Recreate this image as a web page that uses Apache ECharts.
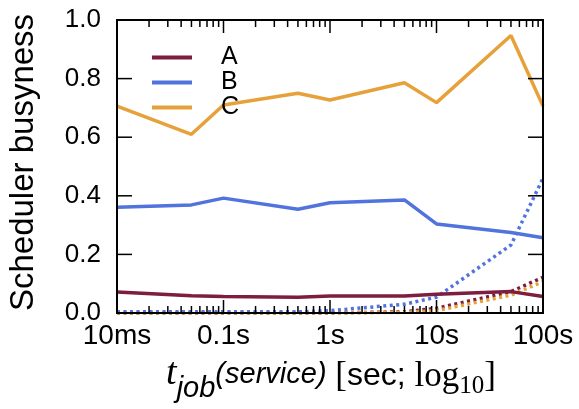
<!DOCTYPE html>
<html>
<head>
<meta charset="utf-8">
<script src="https://cdn.jsdelivr.net/npm/echarts@6/dist/echarts.min.js"></script>
<style>html,body{margin:0;padding:0;background:#fff}#c{width:579px;height:409px}</style>
</head>
<body>
<div id="c"></div>
<script>
// job service time in seconds
const times = [0.01, 0.05, 0.1, 0.5, 1, 5, 10, 50, 100];
// solid series
const seriesA = [0.072, 0.059, 0.056, 0.054, 0.058, 0.058, 0.064, 0.073, 0.056];
const seriesB = [0.361, 0.369, 0.392, 0.354, 0.376, 0.386, 0.304, 0.275, 0.257];
const seriesC = [0.706, 0.610, 0.710, 0.750, 0.727, 0.786, 0.718, 0.947, 0.706];
// dotted series
const dottedA = [0, 0, 0, 0, 0, 0.004, 0.016, 0.073, 0.122];
const dottedB = [0.004, 0.004, 0.004, 0.004, 0.008, 0.030, 0.054, 0.232, 0.460];
const dottedC = [0, 0, 0, 0, 0, 0.002, 0.008, 0.061, 0.107];
// ticks and tick labels
const xTickLabels = ['10ms', '0.1s', '1s', '10s', '100s'];
const xMajorTicks = [0.01, 0.1, 1, 10, 100];
const xMinorTicks = [0.02,0.03,0.04,0.05,0.06,0.07,0.08,0.09,0.2,0.3,0.4,0.5,0.6,0.7,0.8,0.9,2,3,4,5,6,7,8,9,20,30,40,50,60,70,80,90];
const yTicks = [0, 0.2, 0.4, 0.6, 0.8, 1.0];
const legendNames = ['A', 'B', 'C'];
const yTitle = 'Scheduler busyness';

const colors = {A: '#7d1d3f', B: '#5173dd', C: '#e7a13b'};
const SANS = 'Liberation Sans, Arial, sans-serif';
const SERIF = 'Liberation Serif, DejaVu Serif, serif';
const X_MIN = 0.01, X_MAX = 100, Y_MIN = 0, Y_MAX = 1;

const pair = (arr) => times.map((t, i) => [t, arr[i]]);

function solid(name, arr) {
  return {name, type: 'line', data: pair(arr), symbol: 'none', z: 3,
    lineStyle: {color: colors[name], width: 3.5}, itemStyle: {color: colors[name]}};
}
function dotted(key, arr) {
  return {name: key + '-dot', type: 'line', data: pair(arr), symbol: 'none', z: 2,
    lineStyle: {color: colors[key], width: 3.5, type: [3, 3.5]}, itemStyle: {color: colors[key]}};
}

const richX = {
  t: {fontFamily: SERIF, fontStyle: 'italic', fontSize: 38, fill: '#000', verticalAlign: 'bottom', padding: [0, 0, 10, 0], lineHeight: 46},
  job: {fontFamily: SANS, fontStyle: 'italic', fontSize: 29, fill: '#000', verticalAlign: 'bottom', padding: [0, 0, 0, 0], lineHeight: 46},
  svc: {fontFamily: SANS, fontStyle: 'italic', fontSize: 29, fill: '#000', verticalAlign: 'bottom', padding: [0, 0, 14, 0], lineHeight: 46},
  br: {fontFamily: SERIF, fontSize: 35, fill: '#000', verticalAlign: 'bottom', padding: [0, 0, 9, 0], lineHeight: 46},
  sec: {fontFamily: SANS, fontSize: 32, fill: '#000', verticalAlign: 'bottom', padding: [0, 0, 11, 0], lineHeight: 46},
  log: {fontFamily: SERIF, fontSize: 35, fill: '#000', verticalAlign: 'bottom', padding: [0, 0, 9, 0], lineHeight: 46},
  sub: {fontFamily: SERIF, fontSize: 25, fill: '#000', verticalAlign: 'bottom', padding: [0, 0, 4, 0], lineHeight: 46}
};

const chart = echarts.init(document.getElementById('c'));
chart.setOption({
  animation: false,
  grid: {left: 117, right: 36, top: 20, bottom: 96, show: true, borderColor: '#000', borderWidth: 2, backgroundColor: 'transparent'},
  legend: {
    data: legendNames, orient: 'vertical', left: 147, top: 40,
    icon: 'rect', itemWidth: 40, itemHeight: 4, itemGap: 0,
    textStyle: {fontSize: 25, fontFamily: SANS, color: '#000', padding: [0, 0, 0, 24], lineHeight: 25}
  },
  xAxis: {type: 'log', logBase: 10, min: X_MIN, max: X_MAX, position: 'bottom',
    axisLine: {show: false, onZero: false}, splitLine: {show: false}, axisTick: {show: false},
    axisLabel: {fontSize: 28, fontFamily: SANS, color: '#000', margin: 9,
      formatter: v => xTickLabels[Math.round(Math.log10(v)) + 2]}},
  yAxis: {type: 'value', min: Y_MIN, max: Y_MAX, interval: 0.2, position: 'left',
    axisLine: {show: false, onZero: false}, splitLine: {show: false}, axisTick: {show: false},
    axisLabel: {fontSize: 26, fontFamily: SANS, color: '#000', margin: 16, formatter: v => v.toFixed(1)}},
  series: [
    dotted('A', dottedA), dotted('C', dottedC), dotted('B', dottedB),
    solid('A', seriesA), solid('B', seriesB), solid('C', seriesC)
  ]
});

// frame, ticks and titles as graphic elements, positioned through the chart's own scales
const toPx = (x, y) => chart.convertToPixel({xAxisIndex: 0, yAxisIndex: 0}, [x, y]);
const lb = toPx(X_MIN, Y_MIN), rt = toPx(X_MAX, Y_MAX);
const L = lb[0], B = lb[1], R = rt[0], T = rt[1];
const blk = {fill: '#000'};
const rect = (x, y, w, h) => ({type: 'rect', silent: true, z: 10, shape: {x, y, width: w, height: h}, style: blk});
const marks = [
  rect(L - 1, T - 1, 2, B - T + 2), rect(R - 1, T - 1, 2, B - T + 2),
  rect(L - 1, T - 1, R - L + 2, 2), rect(L - 1, B - 1, R - L + 2, 2)
];
xMajorTicks.forEach(v => { const px = toPx(v, Y_MIN)[0]; marks.push(rect(px - 0.75, B - 13, 1.5, 13), rect(px - 0.75, T, 1.5, 13)); });
xMinorTicks.forEach(v => { const px = toPx(v, Y_MIN)[0]; marks.push(rect(px - 0.75, B - 7, 1.5, 7), rect(px - 0.75, T, 1.5, 7)); });
yTicks.forEach(v => { const py = toPx(X_MIN, v)[1]; marks.push(rect(L, py - 0.75, 15, 1.5), rect(R - 15, py - 0.75, 15, 1.5)); });
marks.push(
  {type: 'text', x: (L + R) / 2 + 1, y: B + 44, silent: true, z: 10,
   style: {text: '{t|t}{job|job}{svc|(service)}{br| [}{sec|sec; }{log|log}{sub|10}{br|]}',
     rich: richX, align: 'center', verticalAlign: 'top'}},
  {type: 'text', x: 24, y: (T + B) / 2 - 4, rotation: Math.PI / 2, silent: true, z: 10,
   style: {text: yTitle, fontSize: 33, fontFamily: SANS, fill: '#000', align: 'center', verticalAlign: 'middle'}}
);
chart.setOption({graphic: marks});
</script>
</body>
</html>
